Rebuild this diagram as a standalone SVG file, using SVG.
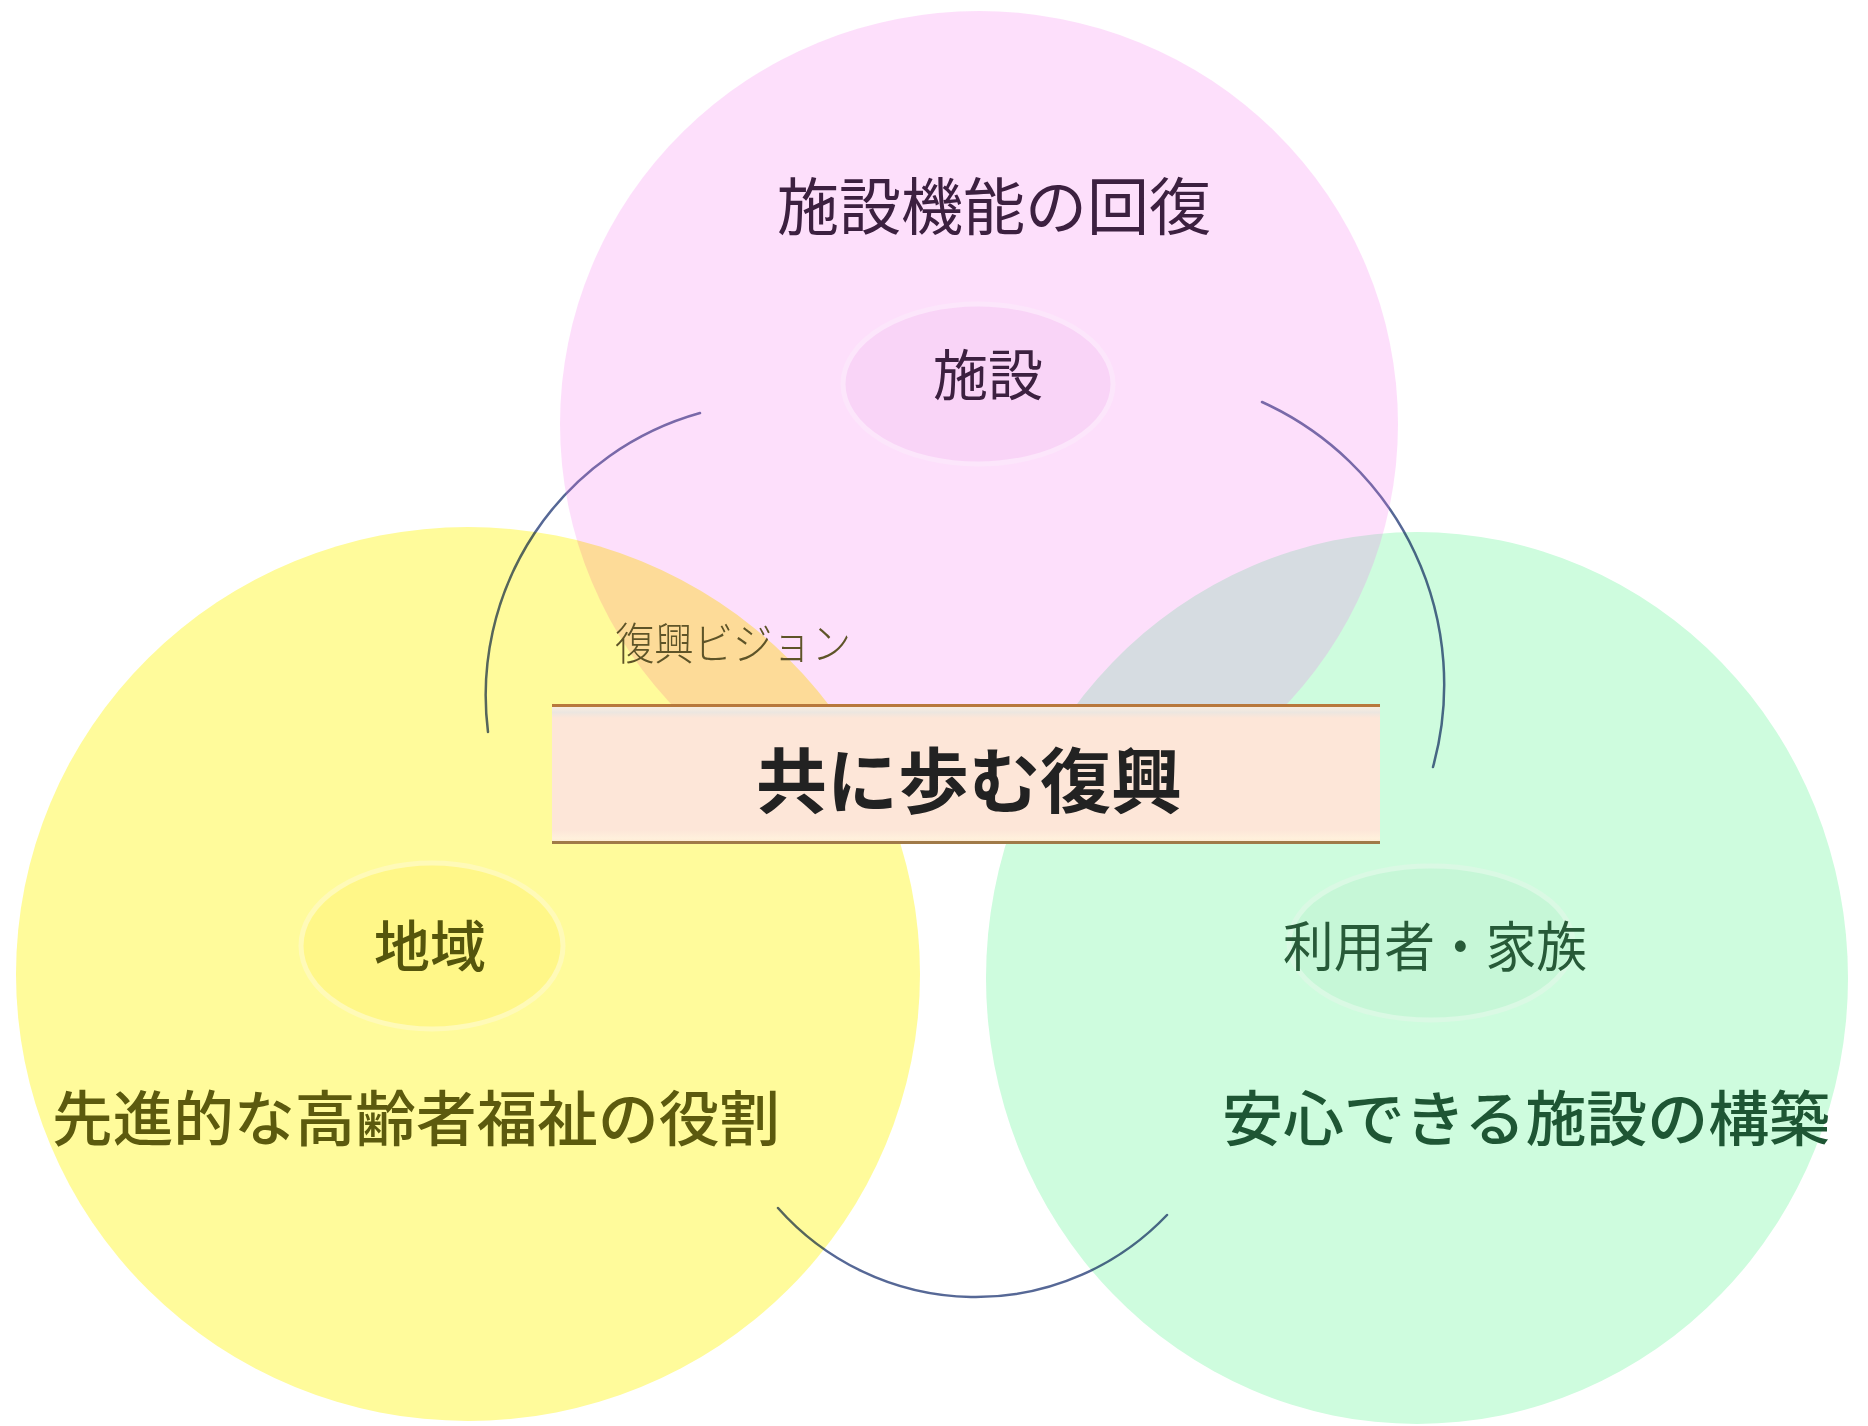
<svg xmlns="http://www.w3.org/2000/svg" width="1868" height="1426" viewBox="0 0 1868 1426">
<defs>
<linearGradient id="topline" x1="0" y1="0" x2="1" y2="0">
<stop offset="0" stop-color="#cde6f8"/>
<stop offset="1" stop-color="#f0f4f6"/>
</linearGradient>
<linearGradient id="boxfill" x1="0" y1="0" x2="0" y2="1">
<stop offset="0" stop-color="#fff0e0"/>
<stop offset="0.06" stop-color="#ece6e0"/>
<stop offset="0.1" stop-color="#fde6d8"/>
<stop offset="0.9" stop-color="#fde6d8"/>
<stop offset="0.96" stop-color="#fff0dc"/>
<stop offset="1" stop-color="#fde8cf"/>
</linearGradient>
</defs>
<style>
.jp{font-family:"Noto Sans CJK JP","Noto Sans CJK SC",sans-serif;}
.mult{mix-blend-mode:multiply;}
.arc{fill:none;stroke:#566896;stroke-width:2.5;stroke-linecap:round;}
.halo{stroke-width:5;}
</style>
<rect x="0" y="0" width="1868" height="1426" fill="#ffffff"/>
<line x1="0" y1="8.5" x2="1868" y2="8.5" stroke="url(#topline)" stroke-width="1.5"/>
<g id="connectors">
<path class="arc" d="M700,413 A293,293 0 0 0 488,732"/>
<path class="arc" d="M1262,402 A310,310 0 0 1 1433,767"/>
<path class="arc" d="M778,1208 A264,264 0 0 0 1167,1215"/>
</g>
<g id="node-users">
<ellipse class="mult" cx="1417" cy="978" rx="431" ry="446" fill="#cefcde"/>
<ellipse class="halo" cx="1431" cy="943" rx="142" ry="77" fill="#c6f7d7" stroke="#daf9e4"/>
<text class="jp" x="1283" y="967" font-size="54" textLength="304" lengthAdjust="spacingAndGlyphs" fill="#275a38">利用者・家族</text>
<text class="jp" x="1222" y="1141" font-size="60" font-weight="500" textLength="608" lengthAdjust="spacingAndGlyphs" fill="#1e5634">安心できる施設の構築</text>
</g>
<g id="node-facility">
<ellipse cx="979" cy="424" rx="419" ry="413" fill="#f66eed" fill-opacity="0.22"/>
<ellipse class="halo" cx="978" cy="384" rx="135" ry="80" fill="#f9d4f7" stroke="#fce6fb"/>
<text class="jp" x="994" y="230" font-size="62" text-anchor="middle" fill="#3c2040">施設機能の回復</text>
<text class="jp" x="988" y="395" font-size="55" text-anchor="middle" fill="#3c2040">施設</text>
</g>
<g id="node-community">
<ellipse class="mult" cx="468" cy="974" rx="452" ry="447" fill="#fffb9b"/>
<ellipse class="halo" cx="432" cy="946" rx="131" ry="83" fill="#fff788" stroke="#fffab8"/>
<text class="jp" x="430" y="967" font-size="56" font-weight="500" text-anchor="middle" fill="#55550c">地域</text>
<text class="jp" x="52" y="1141" font-size="60" font-weight="500" textLength="728" lengthAdjust="spacingAndGlyphs" fill="#5c5a0e">先進的な高齢者福祉の役割</text>
</g>
<g id="label-vision">
<text class="jp" x="615" y="660" font-size="44" font-weight="300" textLength="236" lengthAdjust="spacingAndGlyphs" fill="#5e5428">復興ビジョン</text>
</g>
<g id="node-center">
<rect x="552" y="704" width="828" height="140" fill="url(#boxfill)"/>
<line x1="552" y1="705.5" x2="1380" y2="705.5" stroke="#b8783c" stroke-width="3"/>
<line x1="552" y1="842.5" x2="1380" y2="842.5" stroke="#a07a48" stroke-width="3"/>
<text class="jp" x="969" y="807" font-size="71" font-weight="bold" text-anchor="middle" fill="#222222">共に歩む復興</text>
</g>
</svg>
